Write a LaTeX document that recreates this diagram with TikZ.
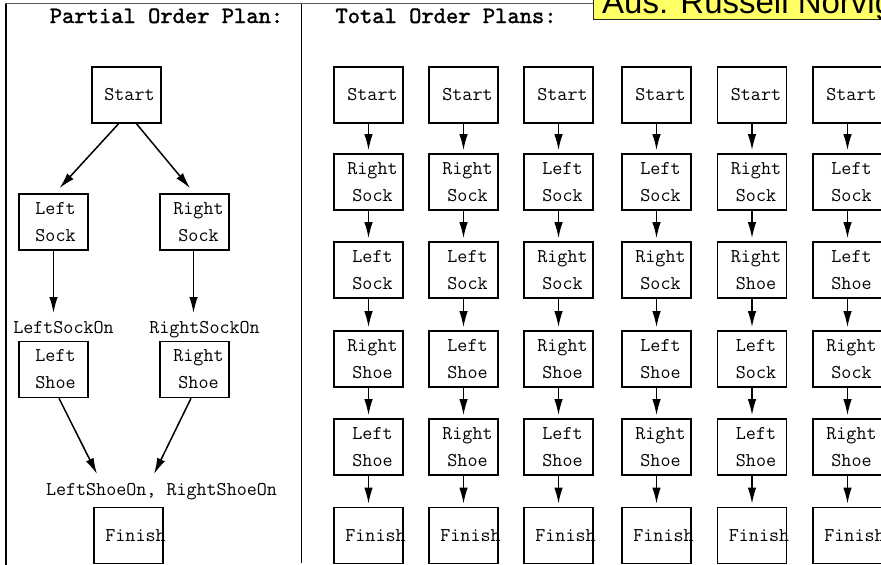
\documentclass[tikz,border=0pt]{standalone}
\usepackage{fontspec}
\newfontfamily\sans{Liberation Sans}
\newfontfamily\monob{lmmono10-regular}[Extension=.otf,FakeBold=1.6]
\usetikzlibrary{arrows.meta}
\definecolor{hl}{HTML}{FFFF66}
\newcommand\bx[5]{%
  \node[box] (#1) at (#2,#3) {};
  \node[txt] (#1t) at ([xshift=#5pt]#1.center) {#4};}
\begin{document}
\begin{tikzpicture}[x=1pt,y=-1pt,
  box/.style={draw,line width=1.6pt,minimum width=69pt,minimum height=56pt,inner sep=0pt},
  txt/.style={font=\ttfamily\fontsize{19.5}{27}\selectfont,align=center,inner sep=0pt},
  lbl/.style={font=\ttfamily\fontsize{19.5}{22}\selectfont,inner sep=0pt},
  ttl/.style={font=\monob\fontsize{23.4}{26}\selectfont,inner sep=0pt,anchor=base},
  arr/.style={-{Latex[length=16pt,width=8.5pt]},line width=1.5pt}]
\useasboundingbox (0,0) rectangle (881,565);
% frame
\draw[line width=1pt,black!65] (5,3.5) -- (593,3.5);
\draw[line width=1.4pt] (6,3.5) -- (6,565);
\draw[line width=1.4pt] (301.5,3.5) -- (301.5,563);
% source tag
\draw[fill=hl,draw=black!85,line width=0.8pt] (593,-6) rectangle (886,19);
\node[font=\sans\fontsize{33}{33}\selectfont,anchor=base west,inner sep=0pt] (aus) at (602,13) {Aus: Russell Norvig};
% titles
\node[ttl] (ptitle) at (166.5,23) {Partial Order Plan:};
\node[ttl] (ttitle) at (446,23) {Total Order Plans:};
% partial order plan
\bx{start}{126.5}{95}{Start}{3}
\bx{lsock}{53.5}{222}{Left\\Sock}{2}
\bx{rsock}{194.5}{222}{Right\\Sock}{4}
\bx{lshoe}{53.5}{369.5}{Left\\Shoe}{2}
\bx{rshoe}{194.5}{369.5}{Right\\Shoe}{4}
\bx{fin}{128.5}{535.5}{Finish}{7}
\node[lbl,anchor=base] (lson) at (63.5,333) {LeftSockOn};
\node[lbl,anchor=base] (rson) at (204.5,333) {RightSockOn};
\node[lbl,anchor=base] (shon) at (161.5,495) {LeftShoeOn, RightShoeOn};
\coordinate (lsend) at (53.5,313);
\coordinate (rsend) at (193.5,313);
\coordinate (lhend) at (97,474);
\coordinate (rhend) at (154,474);
\draw[arr] ([xshift=-8pt]start.south) -- ([xshift=6pt,yshift=5pt]lsock.north);
\draw[arr] ([xshift=10pt]start.south) -- ([xshift=-4.5pt,yshift=5pt]rsock.north);
\draw[arr] (lsock.south) -- (lsend);
\draw[arr] ([xshift=-1pt]rsock.south) -- (rsend);
\draw[arr] ([xshift=5.5pt]lshoe.south) -- (lhend);
\draw[arr] ([xshift=-3.5pt]rshoe.south) -- (rhend);
% total order plans
% column 1
\bx{c1r1}{368.5}{95}{Start}{4}
\bx{c1r2}{368.5}{182}{Right\\Sock}{4}
\bx{c1r3}{368.5}{270}{Left\\Sock}{4}
\bx{c1r4}{368.5}{359}{Right\\Shoe}{4}
\bx{c1r5}{368.5}{447}{Left\\Shoe}{4}
\bx{c1r6}{368.5}{535.5}{Finish}{7}
% column 2
\bx{c2r1}{463.5}{95}{Start}{4}
\bx{c2r2}{463.5}{182}{Right\\Sock}{4}
\bx{c2r3}{463.5}{270}{Left\\Sock}{4}
\bx{c2r4}{463.5}{359}{Left\\Shoe}{4}
\bx{c2r5}{463.5}{447}{Right\\Shoe}{4}
\bx{c2r6}{463.5}{535.5}{Finish}{7}
% column 3
\bx{c3r1}{558.5}{95}{Start}{4}
\bx{c3r2}{558.5}{182}{Left\\Sock}{4}
\bx{c3r3}{558.5}{270}{Right\\Sock}{4}
\bx{c3r4}{558.5}{359}{Right\\Shoe}{4}
\bx{c3r5}{558.5}{447}{Left\\Shoe}{4}
\bx{c3r6}{558.5}{535.5}{Finish}{7}
% column 4
\bx{c4r1}{656.5}{95}{Start}{4}
\bx{c4r2}{656.5}{182}{Left\\Sock}{4}
\bx{c4r3}{656.5}{270}{Right\\Sock}{4}
\bx{c4r4}{656.5}{359}{Left\\Shoe}{4}
\bx{c4r5}{656.5}{447}{Right\\Shoe}{4}
\bx{c4r6}{656.5}{535.5}{Finish}{7}
% column 5
\bx{c5r1}{752}{95}{Start}{4}
\bx{c5r2}{752}{182}{Right\\Sock}{4}
\bx{c5r3}{752}{270}{Right\\Shoe}{4}
\bx{c5r4}{752}{359}{Left\\Sock}{4}
\bx{c5r5}{752}{447}{Left\\Shoe}{4}
\bx{c5r6}{752}{535.5}{Finish}{7}
% column 6
\bx{c6r1}{847.5}{95}{Start}{4}
\bx{c6r2}{847.5}{182}{Left\\Sock}{4}
\bx{c6r3}{847.5}{270}{Left\\Shoe}{4}
\bx{c6r4}{847.5}{359}{Right\\Sock}{4}
\bx{c6r5}{847.5}{447}{Right\\Shoe}{4}
\bx{c6r6}{847.5}{535.5}{Finish}{7}
\foreach \cl in {1,...,6}{
  \foreach \rw [evaluate=\rw as \nx using int(\rw+1)] in {1,...,5}{
    \draw[arr] (c\cl r\rw.south) -- ([yshift=3pt]c\cl r\nx.north);
  }
}
\end{tikzpicture}
\end{document}
